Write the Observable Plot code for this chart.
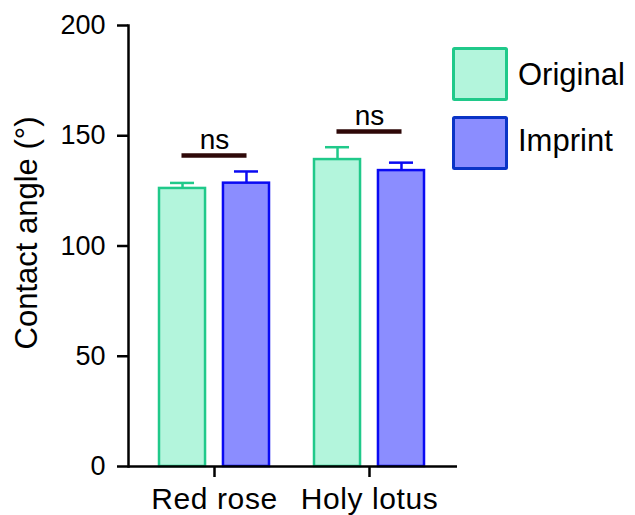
<!DOCTYPE html>
<html><head><meta charset="utf-8">
<script src="https://cdn.jsdelivr.net/npm/d3@7"></script>
<script src="https://cdn.jsdelivr.net/npm/@observablehq/plot@0.6"></script>
<style>
html,body{margin:0;padding:0;background:#fff;}
#chart{width:635px;height:515px;}
svg text{font-family:"Liberation Sans",Arial,Helvetica,sans-serif;}
g[aria-label="x-axis tick label"] text{letter-spacing:0.6px;}
</style></head><body><div id="chart"></div>
<script>
// ---- data ----
const groups = ["Red rose", "Holy lotus"];
const series = ["Original", "Imprint"];
const originalMean = [126.1, 139.2];
const originalErr = [2.5, 5.6];
const imprintMean = [128.5, 134.2];
const imprintErr = [5.3, 3.6];
const sigLabels = ["ns", "ns"];
const sigLevels = [141.0, 151.9];
const yTicks = [0, 50, 100, 150, 200];
const yLabel = "Contact angle (°)";

// ---- styles ----
const fills = {Original: "#b3f5dc", Imprint: "#8b8dff"};
const strokes = {Original: "#20c98a", Imprint: "#0a0af2"};
const legendStrokes = {Original: "#20c98a", Imprint: "#0a34c6"};
const sigColor = "#2e0808";

const W = 635, H = 515;
const mL = 128, mR = 178, mT = 25, mB = 49;
const padInner = 0.2885, padOuter = 0.199, align = 0.48;
const BAR_W = 47, CAP_W = 25, NS_W = 66;

const xb = d3.scaleBand(groups, [mL, W - mR]).paddingInner(padInner).paddingOuter(padOuter).align(align);
const bw = xb.bandwidth();
const off = (bw - BAR_W) / 2;

const orig = groups.map((g, i) => ({group: g, mean: originalMean[i], top: originalMean[i] + originalErr[i]}));
const imp = groups.map((g, i) => ({group: g, mean: imprintMean[i], top: imprintMean[i] + imprintErr[i]}));
const sig = groups.map((g, i) => ({group: g, level: sigLevels[i], label: sigLabels[i]}));

const capIn = (BAR_W - CAP_W) / 2;

const plot = Plot.plot({
  width: W, height: H,
  marginLeft: mL, marginRight: mR, marginTop: mT, marginBottom: mB,
  x: {domain: groups, paddingInner: padInner, paddingOuter: padOuter, align, axis: null},
  y: {domain: [0, 200], axis: null},
  style: {fontFamily: '"Liberation Sans", Arial, Helvetica, sans-serif', background: "#fff", overflow: "visible"},
  marks: [
    Plot.barY(orig, {x: "group", y: "mean", fill: fills.Original, stroke: strokes.Original, strokeWidth: 2.5, insetLeft: 0, insetRight: bw - BAR_W}),
    Plot.barY(imp, {x: "group", y: "mean", fill: fills.Imprint, stroke: strokes.Imprint, strokeWidth: 2.5, insetLeft: bw - BAR_W, insetRight: 0}),
    Plot.ruleX(orig, {x: "group", y1: "mean", y2: "top", dx: -off, stroke: strokes.Original, strokeWidth: 2.5}),
    Plot.ruleX(imp, {x: "group", y1: "mean", y2: "top", dx: off, stroke: strokes.Imprint, strokeWidth: 2.5}),
    Plot.tickY(orig, {x: "group", y: "top", stroke: strokes.Original, strokeWidth: 2.5, insetLeft: capIn, insetRight: bw - BAR_W + capIn}),
    Plot.tickY(imp, {x: "group", y: "top", stroke: strokes.Imprint, strokeWidth: 2.5, insetLeft: bw - BAR_W + capIn, insetRight: capIn}),
    Plot.tickY(sig, {x: "group", y: "level", stroke: sigColor, strokeWidth: 4.5, insetLeft: (bw - NS_W) / 2, insetRight: (bw - NS_W) / 2}),
    Plot.text(sig, {x: "group", y: "level", text: "label", dy: -7, lineAnchor: "bottom", fontSize: 28, fill: "#000"}),
    Plot.ruleY([0], {stroke: "#000", strokeWidth: 2.5}),
    Plot.frame({anchor: "left", stroke: "#000", strokeWidth: 2.5}),
    Plot.axisY({ticks: yTicks, tickSize: 11, tickPadding: 12, fontSize: 27, strokeWidth: 2.5, label: null, fill: "#000"}),
    Plot.axisX({tickSize: 11, tickPadding: 10, fontSize: 30, strokeWidth: 2.5, label: null, fill: "#000"}),
    Plot.text([yLabel], {text: d => d, frameAnchor: "left", rotate: -90, dx: -91.5, dy: -13, lineAnchor: "bottom", textAnchor: "middle", fontSize: 31, fill: "#000"})
  ]
});
document.getElementById("chart").appendChild(plot);

// ---- legend ----
const svg = d3.select(plot);
const lg = svg.append("g").attr("aria-label", "legend").attr("text-anchor", "start");
const legendRows = [{key: "Original", top: 47, base: 85}, {key: "Imprint", top: 116, base: 150.7}];
legendRows.forEach(r => {
  lg.append("rect").attr("x", 453.5).attr("y", r.top + 1.5).attr("width", 53).attr("height", 51)
    .attr("fill", fills[r.key]).attr("stroke", legendStrokes[r.key]).attr("stroke-width", 3).attr("rx", 1);
  lg.append("text").attr("x", 518).attr("y", r.base).attr("font-size", 31).attr("fill", "#000")
    .attr("text-anchor", "start").text(r.key);
});
</script></body></html>
